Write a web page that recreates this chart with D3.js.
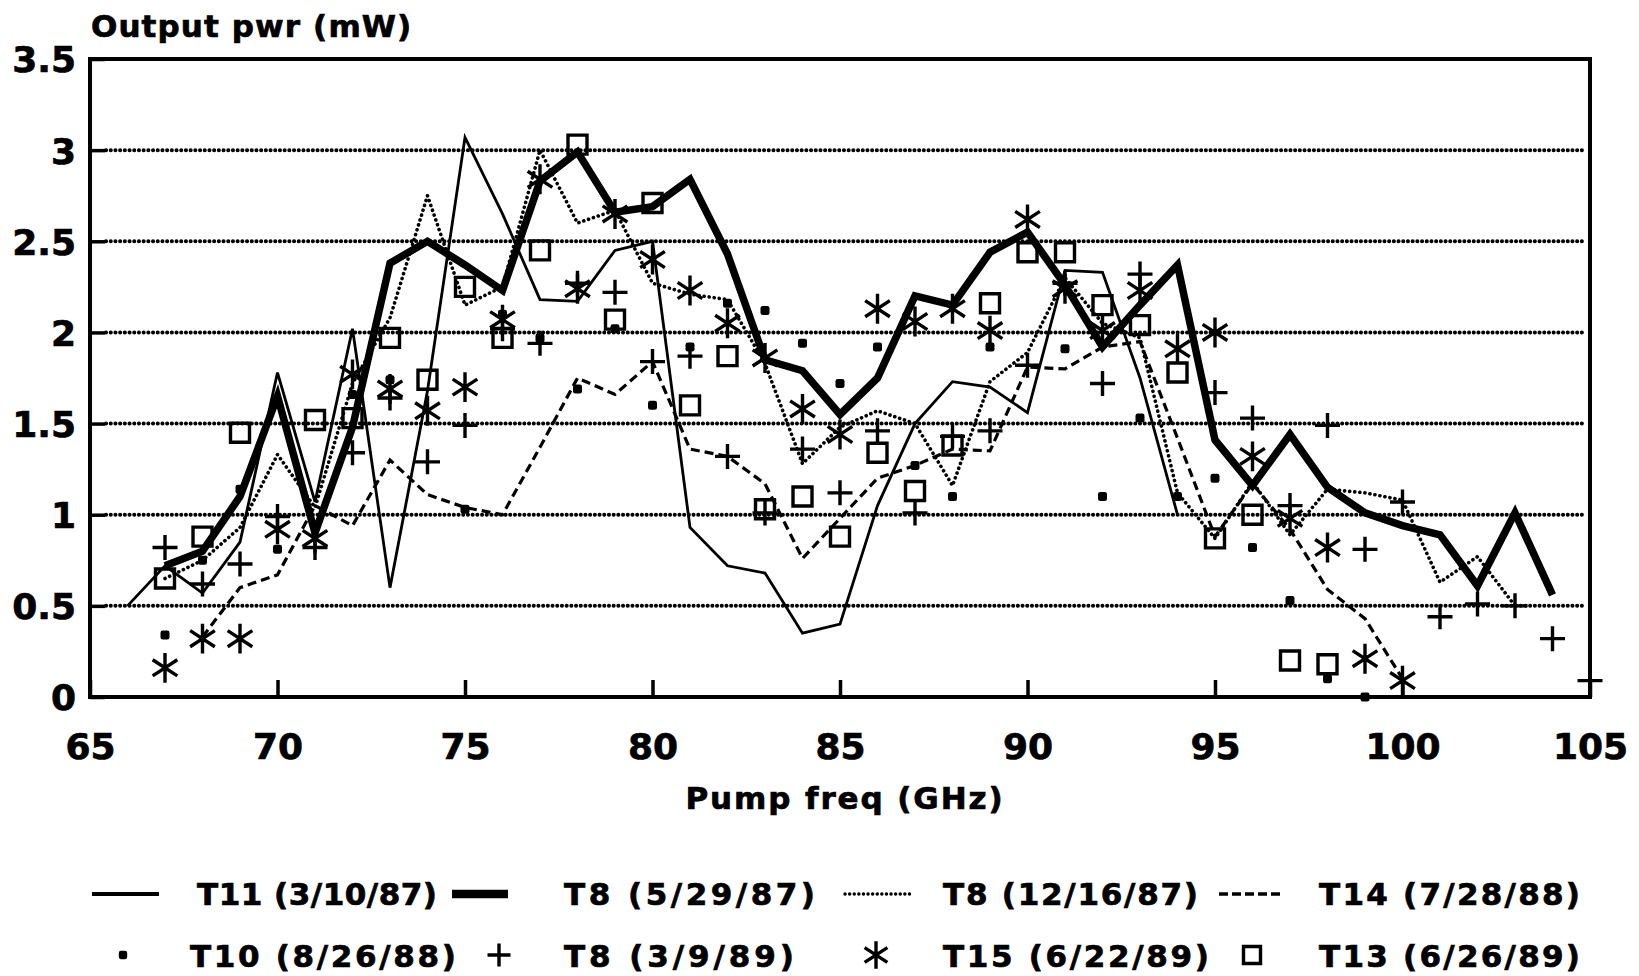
<!DOCTYPE html>
<html>
<head>
<meta charset="utf-8">
<script src="https://cdn.jsdelivr.net/npm/d3@7"></script>
<style>
  body { margin: 0; background: #fff; }
  svg { display: block; }
  text { font-family: "DejaVu Sans", sans-serif; font-weight: bold; fill: #000; stroke: #000; stroke-width: 0.7px; }
</style>
</head>
<body>
<svg width="1639" height="976"></svg>
<script>
// data: [pump freq GHz, output mW]
var t11_031087 = [[66,0.5],[67,0.72],[68,0.57],[69,0.85],[70,1.78],[71,1.07],[72,2.02],[73,0.6],[74,1.68],
  [75,3.07],[76,2.65],[77,2.18],[78,2.17],[79,2.45],[80,2.5],[81,0.93],[82,0.72],[83,0.68],[84,0.35],
  [85,0.4],[86,1.05],[87,1.5],[88,1.73],[89,1.7],[90,1.56],[91,2.34],[92,2.33],[93,1.75],[94,1.0]];
var t8_052987 = [[67,0.72],[68,0.8],[69,1.1],[70,1.65],[71,0.9],[72,1.48],[73,2.38],[74,2.5],[75,2.37],
  [76,2.23],[77,2.83],[78,2.99],[79,2.66],[80,2.69],[81,2.84],[82,2.43],[83,1.85],[84,1.79],[85,1.55],
  [86,1.75],[87,2.2],[88,2.15],[89,2.44],[90,2.55],[91,2.26],[92,1.92],[93,2.15],[94,2.37],[95,1.41],
  [96,1.16],[97,1.44],[98,1.15],[99,1.01],[100,0.94],[101,0.89],[102,0.61],[103,1.01],[104,0.56]];
var t8_121687 = [[67,0.65],[68,0.75],[69,0.93],[70,1.33],[71,1.04],[72,1.72],[73,2.08],[74,2.75],[75,2.15],
  [76,2.25],[77,3.0],[78,2.6],[79,2.67],[80,2.27],[81,2.21],[82,2.18],[83,1.83],[84,1.28],[85,1.48],
  [86,1.57],[87,1.5],[88,1.16],[89,1.73],[90,1.89],[91,2.3],[92,2.05],[93,1.97],[94,1.12],[95,0.87],
  [96,1.18],[97,0.89],[98,1.14],[99,1.12],[100,1.08],[101,0.63],[102,0.77],[103,0.5]];
var t14_072888 = [[68,0.33],[69,0.6],[70,0.67],[71,1.05],[72,0.94],[73,1.3],[74,1.11],[75,1.04],[76,1.0],
  [77,1.37],[78,1.75],[79,1.66],[80,1.84],[81,1.36],[82,1.32],[83,1.17],[84,0.76],[85,0.98],[86,1.2],
  [87,1.27],[88,1.36],[89,1.35],[90,1.81],[91,1.8],[92,1.92],[93,1.95],[94,1.42],[95,0.88],[96,1.17],
  [97,0.92],[98,0.59],[99,0.43],[100,0.1]];
var t10_082688 = [[67,0.34],[68,0.75],[69,1.14],[70,0.81],[72,1.66],[73,1.74],[75,1.03],[76,2.1],[77,1.97],
  [78,1.69],[79,2.02],[80,1.6],[81,1.92],[82,2.16],[83,2.12],[84,1.94],[85,1.72],[86,1.92],[87,1.27],
  [88,1.1],[89,1.92],[91,1.91],[92,1.1],[93,1.53],[94,1.1],[95,1.2],[96,0.82],[97,0.53],[98,0.1],[99,0.0]];
var t8_030989 = [[67,0.82],[68,0.62],[69,0.73],[70,0.99],[71,0.82],[72,1.34],[73,1.64],[74,1.29],[75,1.49],
  [76,2.02],[77,1.94],[78,2.27],[79,2.22],[80,1.84],[81,1.87],[82,1.32],[83,1.01],[84,1.36],[85,1.12],
  [86,1.46],[87,1.01],[88,1.43],[89,1.46],[90,1.82],[91,2.27],[92,1.72],[93,2.32],[95,1.67],[96,1.53],
  [97,1.05],[98,1.49],[99,0.81],[100,1.07],[101,0.44],[102,0.51],[103,0.5],[104,0.32],[105,0.09]];
var t15_062289 = [[67,0.16],[68,0.32],[69,0.32],[70,0.92],[71,0.87],[72,1.77],[73,1.69],[74,1.57],[75,1.7],
  [76,2.07],[77,2.84],[78,2.24],[79,2.65],[80,2.4],[81,2.23],[82,2.05],[83,1.86],[84,1.58],[85,1.44],
  [86,2.13],[87,2.06],[88,2.13],[89,2.01],[90,2.62],[91,2.24],[92,2.01],[93,2.23],[94,1.91],[95,2.0],
  [96,1.32],[97,0.98],[98,0.82],[99,0.21],[100,0.09]];
var t13_062689 = [[67,0.65],[68,0.88],[69,1.45],[71,1.52],[72,1.53],[73,1.97],[74,1.74],[75,2.25],[76,1.97],
  [77,2.45],[78,3.03],[79,2.07],[80,2.71],[81,1.6],[82,1.87],[83,1.03],[84,1.1],[85,0.88],[86,1.34],
  [87,1.13],[88,1.38],[89,2.16],[90,2.44],[91,2.44],[92,2.15],[93,2.04],[94,1.78],[95,0.87],[96,1.0],
  [97,0.2],[98,0.18]];

var xTicks = [65, 70, 75, 80, 85, 90, 95, 100, 105];
var yTicks = [0, 0.5, 1, 1.5, 2, 2.5, 3, 3.5];
var lineNames = ["T11 (3/10/87)", "T8 (5/29/87)", "T8 (12/16/87)", "T14 (7/28/88)"];
var markNames = ["T10 (8/26/88)", "T8 (3/9/89)", "T15 (6/22/89)", "T13 (6/26/89)"];

var svg = d3.select("svg");
var plotL = 90, plotR = 1590, plotT = 59, plotB = 697;

var x = d3.scaleLinear().domain([65, 105]).range([plotL, plotR]);
var y = d3.scaleLinear().domain([0, 3.5]).range([plotB, plotT]);

// dotted grid
svg.append("g").selectAll("line")
  .data(yTicks.filter(function(d) { return d > 0 && d < 3.5; }))
  .enter().append("line")
  .attr("x1", plotL + 16).attr("x2", plotR - 4)
  .attr("y1", function(d) { return y(d); }).attr("y2", function(d) { return y(d); })
  .attr("stroke", "#000").attr("stroke-width", 4)
  .attr("stroke-linecap", "round").attr("stroke-dasharray", "0.1 4.6");

// axes
var xAxis = svg.append("g")
  .attr("transform", "translate(0," + plotB + ")")
  .call(d3.axisBottom(x).tickValues(xTicks).tickSizeInner(-17).tickSizeOuter(0).tickPadding(36));
var yAxis = svg.append("g")
  .attr("transform", "translate(" + plotL + ",0)")
  .call(d3.axisLeft(y).tickValues(yTicks).tickSizeInner(-15).tickSizeOuter(0).tickPadding(14)
    .tickFormat(function(d) { return String(d); }));
[xAxis, yAxis].forEach(function(a) {
  a.select(".domain").remove();
  a.selectAll("line").attr("stroke", "#000").attr("stroke-width", 3.5);
  a.selectAll("text").style("font-size", "36px").style("font-family", "DejaVu Sans").style("font-weight", "bold")
    .attr("stroke", "#000").attr("stroke-width", 1);
});
yAxis.selectAll("text").attr("dy", "0.36em");

// frame
svg.append("rect")
  .attr("x", plotL).attr("y", plotT).attr("width", plotR - plotL).attr("height", plotB - plotT)
  .attr("fill", "none").attr("stroke", "#000").attr("stroke-width", 4);

// lines
var line = d3.line().x(function(d) { return x(d[0]); }).y(function(d) { return y(d[1]); });
var lineStyles = [
  {data: t14_072888, w: 3.2, dash: "9 5", cap: "butt"},
  {data: t8_121687, w: 3.6, dash: "0.1 5", cap: "round"},
  {data: t11_031087, w: 2.8, dash: null, cap: "butt"},
  {data: t8_052987, w: 7.5, dash: null, cap: "butt"}
];
lineStyles.forEach(function(s) {
  svg.append("path").datum(s.data)
    .attr("d", line)
    .attr("fill", "none").attr("stroke", "#000")
    .attr("stroke-width", s.w)
    .attr("stroke-linejoin", "miter")
    .attr("stroke-linecap", s.cap)
    .attr("stroke-dasharray", s.dash);
});

// marker shapes
function plusPath(s) { return "M" + (-s) + ",0H" + s + "M0," + (-s) + "V" + s; }
function starPath(s) {
  var h = s * 1.15, dx = s * 0.95, dy = s * 0.62;
  return "M0," + (-h) + "V" + h +
    "M" + (-dx) + "," + (-dy) + "L" + dx + "," + dy +
    "M" + (-dx) + "," + dy + "L" + dx + "," + (-dy);
}
function squarePath(s) { return "M" + (-s) + "," + (-s) + "H" + s + "V" + s + "H" + (-s) + "Z"; }

function drawMarks(data, fn) {
  var g = svg.append("g");
  data.forEach(function(d) { fn(g, x(d[0]), y(d[1])); });
}
function dotMark(g, cx, cy, s) {
  s = s || 4.5;
  g.append("rect").attr("x", cx - s).attr("y", cy - s).attr("width", 2 * s).attr("height", 2 * s)
    .attr("rx", s * 0.5).attr("fill", "#000");
}
function plusMark(g, cx, cy, s) {
  g.append("path").attr("d", plusPath(s || 12.5)).attr("transform", "translate(" + cx + "," + cy + ")")
    .attr("stroke", "#000").attr("stroke-width", 3.4).attr("fill", "none");
}
function starMark(g, cx, cy, s) {
  g.append("path").attr("d", starPath(s || 13)).attr("transform", "translate(" + cx + "," + cy + ")")
    .attr("stroke", "#000").attr("stroke-width", 3.4).attr("fill", "none");
}
function squareMark(g, cx, cy, s) {
  g.append("path").attr("d", squarePath(s || 9.5)).attr("transform", "translate(" + cx + "," + cy + ")")
    .attr("stroke", "#000").attr("stroke-width", 3.4).attr("fill", "none");
}

drawMarks(t13_062689, squareMark);
drawMarks(t10_082688, dotMark);
drawMarks(t8_030989, plusMark);
drawMarks(t15_062289, starMark);

// titles
svg.append("text").attr("x", 91).attr("y", 37)
  .style("font-size", "31px").style("letter-spacing", "1.1px").text("Output pwr (mW)");
svg.append("text").attr("x", (plotL + plotR) / 2 + 5).attr("y", 809).attr("text-anchor", "middle")
  .style("font-size", "31px").style("letter-spacing", "1.9px").text("Pump freq (GHz)");

// legend
var legRow1 = 905, legRow2 = 967;
var sampleX = [[92, 159], [452, 508], [845, 912], [1219, 1284]];
var textX1 = [197, 564, 943, 1319];
var textX2 = [190, 564, 943, 1319];
var textW1 = [240, 251, 255, 261];
var textW2 = [266, 230, 266, 261];
var markX = [123, 499, 876, 1252];
var legStyles = [
  {w: 4, dash: null, cap: "butt"},
  {w: 8.5, dash: null, cap: "butt"},
  {w: 3.4, dash: "0.1 4.5", cap: "round"},
  {w: 3.4, dash: "9 4", cap: "butt"}
];
lineNames.forEach(function(n, i) {
  svg.append("line").attr("x1", sampleX[i][0]).attr("x2", sampleX[i][1])
    .attr("y1", legRow1 - 11).attr("y2", legRow1 - 11)
    .attr("stroke", "#000").attr("stroke-width", legStyles[i].w)
    .attr("stroke-linecap", legStyles[i].cap).attr("stroke-dasharray", legStyles[i].dash);
  svg.append("text").attr("x", textX1[i]).attr("y", legRow1)
    .attr("textLength", textW1[i]).attr("lengthAdjust", "spacing")
    .style("font-size", "31px").text(n);
});
var legMarks = [dotMark, plusMark, starMark, squareMark];
var legSizes = [4.2, 11.5, 12, 8.5];
markNames.forEach(function(n, i) {
  var g = svg.append("g");
  legMarks[i](g, markX[i], legRow2 - 12, legSizes[i]);
  svg.append("text").attr("x", textX2[i]).attr("y", legRow2)
    .attr("textLength", textW2[i]).attr("lengthAdjust", "spacing")
    .style("font-size", "31px").text(n);
});
</script>
</body>
</html>
